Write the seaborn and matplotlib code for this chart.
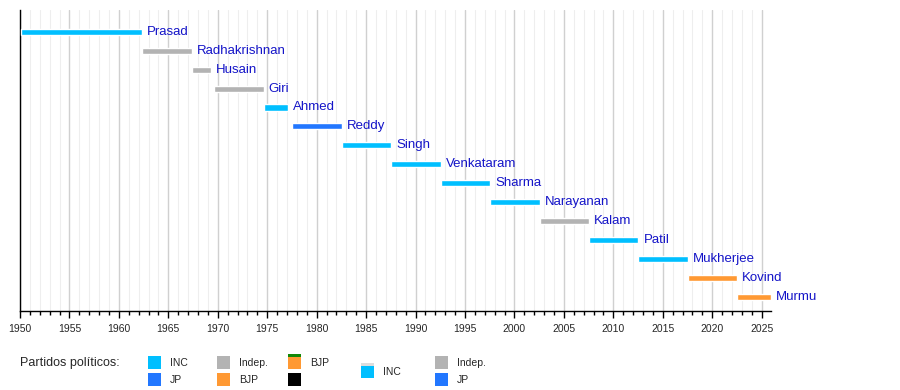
import numpy as np
import pandas as pd
import matplotlib
matplotlib.use("Agg")
import matplotlib.pyplot as plt
import seaborn as sns
from matplotlib.patches import Rectangle
from matplotlib.ticker import MultipleLocator

# presidents of India, term start / end (decimal years) and party
names = ["Prasad", "Radhakrishnan", "Husain", "Giri", "Ahmed", "Reddy", "Singh",
         "Venkataram", "Sharma", "Narayanan", "Kalam", "Patil", "Mukherjee",
         "Kovind", "Murmu"]
starts = [1950.07, 1962.37, 1967.37, 1969.6, 1974.65, 1977.55, 1982.55,
          1987.55, 1992.55, 1997.55, 2002.55, 2007.55, 2012.55, 2017.55, 2022.55]
ends = [1962.37, 1967.37, 1969.34, 1974.65, 1977.1, 1982.55, 1987.55,
        1992.55, 1997.55, 2002.55, 2007.55, 2012.55, 2017.55, 2022.55, 2025.9]
parties = ["INC", "Indep.", "Indep.", "Indep.", "INC", "JP", "INC",
           "INC", "INC", "INC", "Indep.", "INC", "INC", "BJP", "BJP"]

party_colors = {"INC": "#00bfff", "Indep.": "#b3b3b3", "JP": "#2277ff", "BJP": "#ff9933"}

# legend columns as drawn in the original (top, bottom)
legend_cols = [
    [("INC", "#00bfff"), ("JP", "#2277ff")],
    [("Indep.", "#b3b3b3"), ("BJP", "#ff9933")],
    [("BJP", "#ff9933", "#138808"), ("", "#000000")],
    [("INC", "#00bfff", "#dddddd")],
    [("Indep.", "#b3b3b3"), ("JP", "#2277ff")],
]

df = pd.DataFrame({"name": names, "start": starts, "end": ends, "party": parties})
df["row"] = np.arange(len(df))

sns.set_style("white")
plt.rcParams["font.family"] = ["Liberation Sans", "DejaVu Sans"]

W, H = 900, 390
fig = plt.figure(figsize=(9, 3.9), dpi=100)
ax = fig.add_axes([20 / W, 1 - 311 / H, 751 / W, 301 / H])

for _, r in df.iterrows():
    ax.barh(r["row"], r["end"] - r["start"], left=r["start"], height=0.32,
            color=party_colors[r["party"]], zorder=3)
    ax.text(r["end"] + 0.5, r["row"], r["name"], va="center", ha="left",
            fontsize=9.5, color="#1414c8", zorder=4)

ax.set_xlim(1950, 2025.95)
ax.set_ylim(len(df) - 0.25, -1.15)
ax.xaxis.set_major_locator(MultipleLocator(5))
ax.xaxis.set_minor_locator(MultipleLocator(1))
ax.grid(which="major", axis="x", color="#d0d0d0", lw=1, zorder=0)
ax.grid(which="minor", axis="x", color="#eeeeee", lw=0.8, zorder=0)
ax.set_yticks([])
for s in ["top", "right"]:
    ax.spines[s].set_visible(False)
for s in ["left", "bottom"]:
    ax.spines[s].set_color("black")
    ax.spines[s].set_linewidth(1)
ax.tick_params(axis="x", which="major", direction="out", length=5, width=1,
               color="black", labelsize=7.5, pad=4, bottom=True)
ax.tick_params(axis="x", which="minor", direction="out", length=3, width=1,
               color="black", bottom=True)

# legend
fig.text(20 / W, 1 - 363 / H, "Partidos políticos:", fontsize=9, va="center", ha="left")
col_x = [148, 217, 288, 361, 435]
sw = 13
for cx, col in zip(col_x, legend_cols):
    for k, item in enumerate(col):
        label, color = item[0], item[1]
        if len(col) == 1:
            yc = 372
        else:
            yc = 363 + k * 17
        fig.patches.append(Rectangle(((cx) / W, 1 - (yc + 6) / H), sw / W, 13 / H,
                                     transform=fig.transFigure, color=color, lw=0))
        if len(item) > 2:
            fig.patches.append(Rectangle((cx / W, 1 - (yc - 6) / H), sw / W, 3 / H,
                                         transform=fig.transFigure, color=item[2], lw=0))
        if label:
            fig.text((cx + 22) / W, 1 - yc / H, label, fontsize=7.5, va="center", ha="left")

fig.savefig("out.png", dpi=100)
